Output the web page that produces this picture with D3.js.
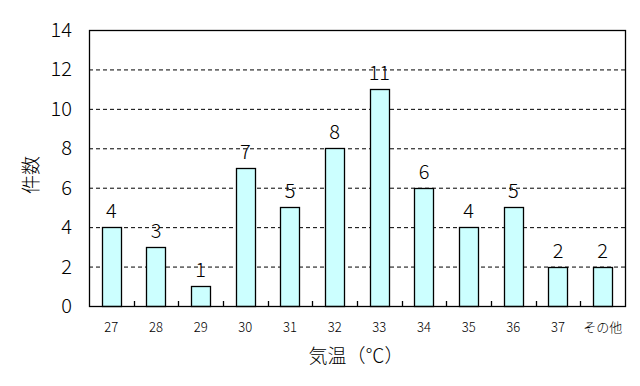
<!DOCTYPE html>
<html><head><meta charset="utf-8">
<script src="https://cdn.jsdelivr.net/npm/d3@7"></script>
<style>body{margin:0;background:#fff}</style>
</head><body>
<svg id="c" width="640" height="386"></svg>
<script>
const categories = ["27","28","29","30","31","32","33","34","35","36","37","その他"];
const counts = [4,3,1,7,5,8,11,6,4,5,2,2];
const yTicks = [0,2,4,6,8,10,12,14];

const svg = d3.select("#c");
const m = {l:89, r:625, t:30, b:306};
const font = "'Noto Sans CJK JP', sans-serif";
const x = d3.scaleBand().domain(categories).range([m.l, m.r]).paddingInner(0.57).paddingOuter(0.285);
const xb = d3.scaleBand().domain(categories).range([m.l, m.r]);
const y = d3.scaleLinear().domain([0,14]).range([m.b, m.t]);

// gridlines
svg.append("g").selectAll("line").data(yTicks.filter(d=>d>0&&d<14)).join("line")
  .attr("x1", m.l).attr("x2", m.r).attr("y1", d=>y(d)+0.5).attr("y2", d=>y(d)+0.5)
  .attr("stroke","#000").attr("stroke-width",1).attr("stroke-dasharray","4,3");

// bars
svg.append("g").selectAll("rect").data(counts).join("rect")
  .attr("x",(d,i)=>Math.round(x(categories[i]))+0.5)
  .attr("y",d=>Math.round(y(d))+0.5)
  .attr("width",Math.round(x.bandwidth()))
  .attr("height",d=>Math.round(y(0))-Math.round(y(d)))
  .attr("fill","#ccffff").attr("stroke","#000").attr("stroke-width",1.3);

// frame
svg.append("rect").attr("x",m.l+0.5).attr("y",m.t+0.5).attr("width",m.r-m.l).attr("height",m.b-m.t)
  .attr("fill","none").attr("stroke","#000").attr("stroke-width",1.3);

// x ticks at band boundaries (inside)
svg.append("g").selectAll("line").data(categories.slice(1)).join("line")
  .attr("x1",d=>Math.round(xb(d))+0.5).attr("x2",d=>Math.round(xb(d))+0.5)
  .attr("y1",m.b).attr("y2",m.b-5).attr("stroke","#000").attr("stroke-width",1.3);

// y tick labels
svg.append("g").selectAll("text").data(yTicks).join("text")
  .attr("x",72).attr("y",d=>y(d)+7).attr("text-anchor","end")
  .attr("font-family",font).attr("font-weight",300).attr("font-size",20).text(d=>d);

// x tick labels
svg.append("g").selectAll("text").data(categories).join("text")
  .attr("x",d=>xb(d)+xb.bandwidth()/2).attr("y",332).attr("text-anchor","middle")
  .attr("font-family",font).attr("font-weight",300).attr("font-size",13).text(d=>d);

// value labels
svg.append("g").selectAll("text").data(counts).join("text")
  .attr("x",(d,i)=>x(categories[i])+x.bandwidth()/2).attr("y",d=>y(d)-9)
  .attr("text-anchor","middle").attr("font-family",font).attr("font-weight",300).attr("font-size",20).text(d=>d);

// axis titles
svg.append("text").attr("transform","translate(38,175) rotate(-90)").attr("text-anchor","middle")
  .attr("font-family",font).attr("font-weight",300).attr("font-size",19).text("件数");
svg.append("text").attr("x",356).attr("y",363).attr("text-anchor","middle")
  .attr("font-family",font).attr("font-weight",300).attr("font-size",19).text("気温（℃）");
</script>
</body></html>
